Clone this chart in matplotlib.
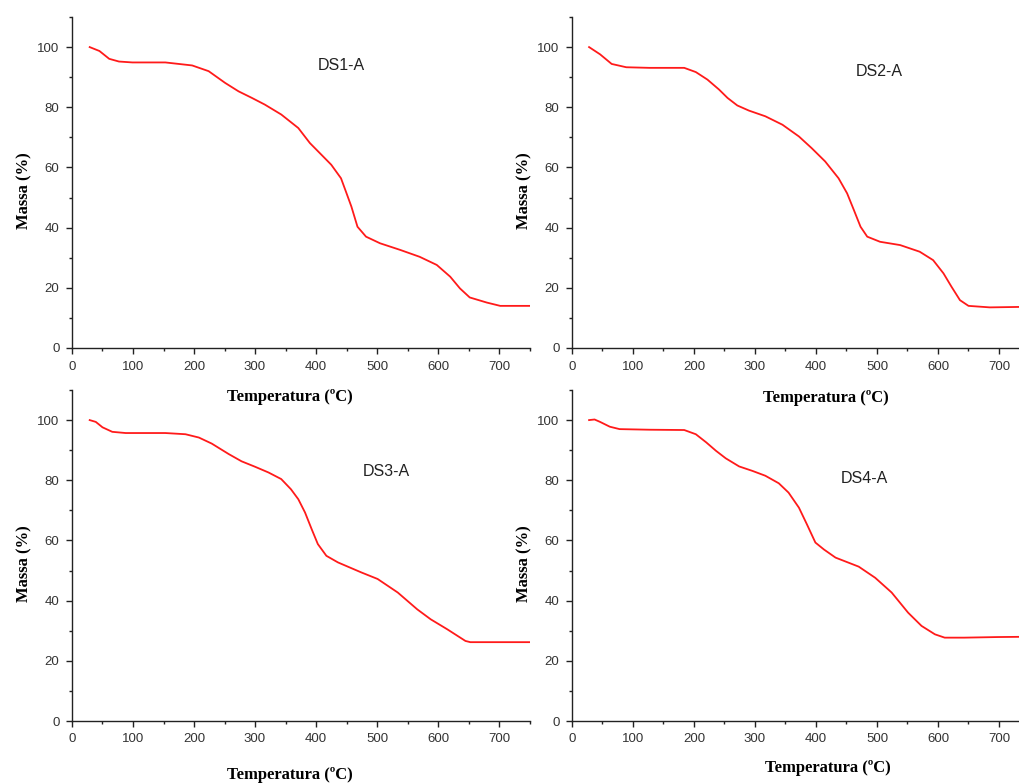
import matplotlib.pyplot as plt
from matplotlib.ticker import MultipleLocator

# curvas TGA (temperatura em ºC, massa em %)
t_ds1 = [29, 45, 61, 77, 99, 153, 197, 224, 251, 273, 295, 316, 343, 371, 390, 409, 425, 441,
         449, 458, 468, 482, 505, 538, 570, 598, 620, 636, 652, 680, 702, 751]
m_ds1 = [100, 98.7, 96.1, 95.2, 94.9, 94.9, 93.9, 92, 88.1, 85.3, 83.1, 80.9, 77.6, 73.1, 68.1,
         64.2, 60.9, 56.4, 52, 47, 40.3, 37, 34.8, 32.6, 30.3, 27.6, 23.7, 19.8, 16.8, 15.1, 14, 14]

t_ds2 = [28, 46, 65, 89, 127, 184, 203, 222, 241, 255, 271, 290, 317, 345, 372, 393, 415, 437,
         451, 462, 473, 484, 505, 538, 570, 592, 609, 622, 636, 650, 685, 750]
m_ds2 = [100, 97.6, 94.4, 93.3, 93.1, 93.1, 91.7, 89.2, 85.9, 83.1, 80.6, 78.9, 77, 74.2, 70.3,
         66.4, 62, 56.4, 51.4, 45.9, 40.3, 37, 35.3, 34.2, 32, 29.2, 24.8, 20.4, 15.9, 14, 13.5, 13.7]

t_ds3 = [29, 39, 50, 66, 88, 153, 186, 208, 229, 257, 278, 300, 322, 343, 359, 371, 382, 393,
         403, 417, 436, 474, 501, 534, 566, 588, 615, 645, 653, 750]
m_ds3 = [100, 99.4, 97.6, 96.1, 95.7, 95.7, 95.3, 94.2, 92.2, 88.7, 86.3, 84.5, 82.6, 80.4, 77,
         73.7, 69.3, 63.7, 58.8, 54.9, 52.7, 49.4, 47.2, 42.7, 37.1, 33.8, 30.5, 26.6, 26.2, 26.2]

t_ds4 = [28, 37, 46, 62, 78, 127, 184, 203, 220, 236, 252, 274, 296, 317, 339, 355, 372, 385,
         399, 413, 432, 470, 497, 524, 551, 573, 595, 611, 643, 698, 750]
m_ds4 = [100, 100.2, 99.4, 97.8, 97, 96.8, 96.7, 95.3, 92.6, 89.8, 87.3, 84.6, 83.1, 81.5, 79,
         75.9, 70.9, 65.4, 59.3, 57, 54.3, 51.3, 47.6, 42.7, 36, 31.6, 28.8, 27.7, 27.7, 27.9, 28]

series = [
    ("DS1-A", t_ds1, m_ds1, (441, 94)),
    ("DS2-A", t_ds2, m_ds2, (503, 92)),
    ("DS3-A", t_ds3, m_ds3, (516, 83)),
    ("DS4-A", t_ds4, m_ds4, (479, 80.6)),
]

W, H = 1020, 784
fig = plt.figure(figsize=(W / 100, H / 100), dpi=100)

# posições dos eixos em pixels: (esquerda, base)
pos = [(72, 348), (572, 348), (72, 721), (572, 721)]
xlab_x = [0.477, 0.554, 0.477, 0.56]
xlab_y = [-0.124, -0.127, -0.139, -0.118]
ax_w, ax_h = 457.5, 331

serif = ['Liberation Serif', 'DejaVu Serif']
sans = ['Liberation Sans', 'DejaVu Sans']

for i, (name, t, m, txt) in enumerate(series):
    left, base = pos[i]
    ax = fig.add_axes([left / W, (H - base) / H, ax_w / W, ax_h / H])
    ax.plot(t, m, color='#ff1a1a', lw=1.3)
    ax.set_xlim(0, 750)
    ax.set_ylim(0, 110)
    ax.xaxis.set_major_locator(MultipleLocator(100))
    ax.xaxis.set_minor_locator(MultipleLocator(50))
    ax.yaxis.set_major_locator(MultipleLocator(20))
    ax.yaxis.set_minor_locator(MultipleLocator(10))
    for s in ['top', 'right']:
        ax.spines[s].set_visible(False)
    for s in ['left', 'bottom']:
        ax.spines[s].set_color('#222222')
        ax.spines[s].set_linewidth(1.0)
    ax.tick_params(which='major', direction='out', length=4, width=1.0, color='#222222',
                   labelsize=9.5, labelcolor='#333333', pad=5)
    ax.tick_params(which='minor', direction='out', length=2.2, width=1.0, color='#222222')
    for lab in ax.get_xticklabels() + ax.get_yticklabels():
        lab.set_family(sans)
    ax.set_xlabel('Temperatura (ºC)', fontsize=12, fontweight='bold', family=serif)
    ax.set_ylabel('Massa (%)', fontsize=12, fontweight='bold', family=serif)
    ax.xaxis.set_label_coords(xlab_x[i], xlab_y[i])
    ax.yaxis.set_label_coords(-0.087, 0.475)
    ax.text(txt[0], txt[1], name, fontsize=11.5, family=sans, color='#222222',
            ha='center', va='center')
    ax.patch.set_alpha(0)

fig.savefig('out.png', dpi=100)
